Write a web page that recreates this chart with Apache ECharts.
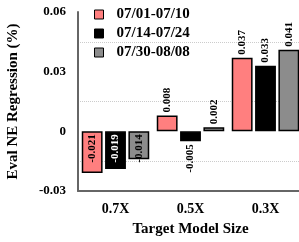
<!DOCTYPE html>
<html><head><meta charset="utf-8">
<script src="https://cdn.jsdelivr.net/npm/echarts@6/dist/echarts.min.js"></script>
<style>html,body{margin:0;padding:0;background:#fff}#c{width:299px;height:242px}</style>
</head><body><div id="c"></div>
<script>
const categories = ['0.7X', '0.5X', '0.3X'];
const seriesNames = ['07/01-07/10', '07/14-07/24', '07/30-08/08'];
const s1 = [-0.021, 0.008, 0.037];
const s2 = [-0.019, -0.005, 0.033];
const s3 = [-0.014, 0.002, 0.041];
const colors = ['#ff7f7f', '#000000', '#8c8c8c'];
const font = 'Liberation Serif';

function mk(vals, idx) {
  return vals.map(v => {
    let label;
    if (v < 0 && Math.abs(v) >= 0.01) {
      label = {position: 'insideTop', rotate: 90, align: 'right', verticalAlign: 'middle', distance: 3,
               color: idx === 1 ? '#fff' : '#000'};
    } else if (v < 0) {
      label = {position: 'bottom', rotate: 90, align: 'right', verticalAlign: 'middle', distance: 3, color: '#000'};
    } else {
      label = {position: 'top', rotate: 90, align: 'left', verticalAlign: 'middle', distance: 3, color: '#000'};
    }
    return {value: v, label};
  });
}

const chart = echarts.init(document.getElementById('c'), null, {renderer: 'canvas'});
chart.setOption({
  animation: false,
  textStyle: {fontFamily: font},
  legend: {
    left: 94, top: 7, orient: 'vertical', itemWidth: 9, itemHeight: 9, itemGap: 4, padding: 0,
    textStyle: {fontFamily: font, fontWeight: 'bold', fontSize: 15, lineHeight: 15, color: '#000', padding: [0, 0, 0, 8]},
    itemStyle: {borderColor: '#000', borderWidth: 1},
    data: seriesNames.map(n => ({name: n, icon: 'rect'}))
  },
  grid: {left: 78, right: -4, top: 12, bottom: 51, containLabel: false, outerBoundsMode: 'none'},
  xAxis: {
    type: 'category', data: categories,
    name: 'Target Model Size', nameLocation: 'middle', nameGap: 31,
    nameTextStyle: {fontFamily: font, fontWeight: 'bold', fontSize: 15, color: '#000'},
    axisLine: {lineStyle: {color: '#666', width: 2}, onZero: false},
    axisTick: {show: false},
    axisLabel: {fontFamily: font, fontWeight: 'bold', fontSize: 14, color: '#000', margin: 11}
  },
  yAxis: {
    type: 'value', min: -0.03, max: 0.06, interval: 0.03,
    name: 'Eval NE Regression (%)', nameLocation: 'middle', nameGap: 57,
    nameTextStyle: {fontFamily: font, fontWeight: 'bold', fontSize: 15, color: '#000'},
    axisLine: {show: true, lineStyle: {color: '#666', width: 2}},
    axisTick: {show: false},
    splitLine: {show: false},
    minorTick: {show: false, splitNumber: 2},
    minorSplitLine: {show: true, lineStyle: {color: '#ccc', type: 'dotted', width: 1}},
    axisLabel: {fontFamily: font, fontWeight: 'bold', fontSize: 13, color: '#000', margin: 12,
      formatter: v => v === 0 ? '0' : String(Math.round(v * 100) / 100)}
  },
  series: [s1, s2, s3].map((vals, i) => ({
    name: seriesNames[i], type: 'bar', data: mk(vals, i),
    barGap: '12%', barCategoryGap: '10%',
    itemStyle: {color: colors[i], borderColor: '#000', borderWidth: 1.5},
    label: {show: true, fontFamily: font, fontWeight: 'bold', fontSize: 11,
      formatter: p => p.value.toFixed(3)}
  }))
});
</script></body></html>
